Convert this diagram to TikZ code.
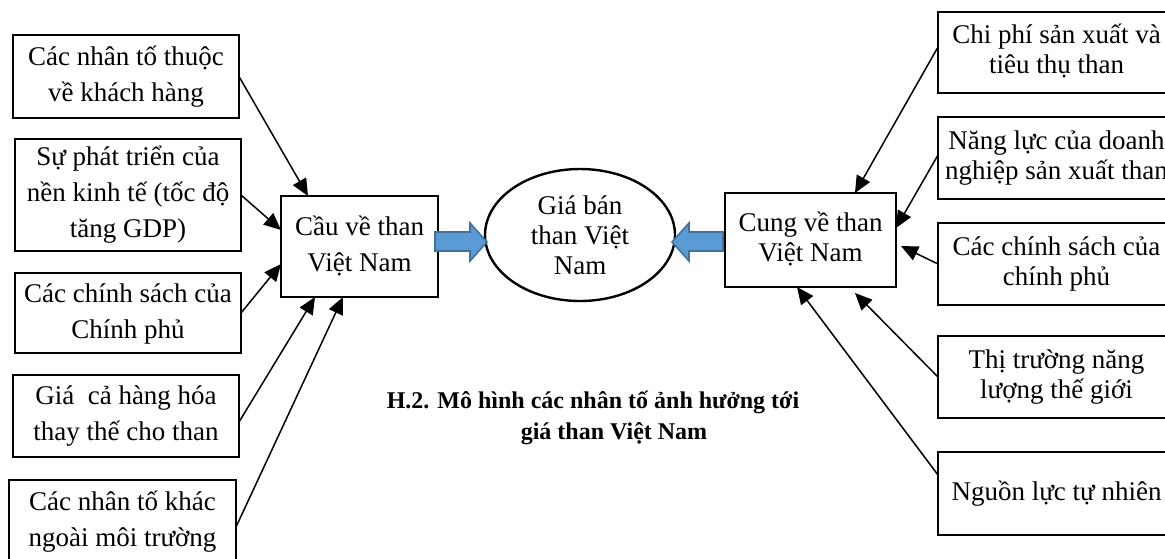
\documentclass[tikz,border=0pt]{standalone}
\usepackage{fontspec}
\setmainfont{Liberation Serif}
\usetikzlibrary{calc,shapes.geometric,arrows.meta}
\definecolor{arrfill}{HTML}{5B9BD5}
\definecolor{arrline}{HTML}{41719C}
\newcommand\lift[2]{\raisebox{#1}{\begin{tabular}{@{}c@{}}#2\end{tabular}}}
\tikzset{
  fbox/.style={draw, line width=1.2pt, inner sep=0pt, outer sep=0pt, align=center,
    font=\fontsize{13.5}{18}\selectfont},
  rbox/.style={fbox, font=\fontsize{13.5}{15}\selectfont},
  conn/.style={line width=0.75pt, -{Triangle[length=8.5pt,width=7.5pt]}},
  barrow/.style={fill=arrfill, draw=arrline, line width=0.8pt, line join=miter}
}
\begin{document}
\begin{tikzpicture}[x=0.5pt,y=-0.5pt]
\useasboundingbox (0,0) rectangle (1165,558);
\clip (0,0) rectangle (1165,558);
% left factor boxes
\node[fbox, minimum width=113pt, minimum height=41.5pt] (L1) at (126,76.5) {\lift{1.5pt}{Các nhân tố thuộc\\về khách hàng}};
\node[fbox, minimum width=113pt, minimum height=56pt] (L2) at (128,195) {Sự phát triển của\\nền kinh tế (tốc độ\\tăng GDP)};
\node[fbox, minimum width=113pt, minimum height=40pt] (L3) at (128,313) {\lift{1.5pt}{Các chính sách của\\Chính phủ}};
\node[fbox, minimum width=113pt, minimum height=41pt] (L4) at (126,416) {Giá\ \ cả hàng hóa\\thay thế cho than};
\node[fbox, minimum width=113.5pt, minimum height=41pt] (L5) at (122.5,521) {\lift{1pt}{Các nhân tố khác\\ngoài môi trường}};
% centre
\node[fbox, minimum width=78.5pt, minimum height=50.5pt] (cau) at (359.5,246.5) {\lift{3pt}{Cầu về than\\Việt Nam}};
\node[draw, ellipse, line width=1.2pt, inner sep=0pt, outer sep=0pt, minimum width=95pt, minimum height=66pt, align=center, font=\fontsize{13.5}{15}\selectfont] (gia) at (580,235) {Giá bán\\than Việt\\Nam};
\node[rbox, minimum width=85.5pt, minimum height=47pt] (cung) at (810.5,240) {\lift{3pt}{Cung về than\\Việt Nam}};
% right factor boxes
\node[rbox, minimum width=118.5pt, minimum height=40.5pt] (R1) at (1056.5,52.5) {\lift{2.5pt}{Chi phí sản xuất và\\tiêu thụ than}};
\node[rbox, minimum width=118.5pt, minimum height=41pt] (R2) at (1056.5,158) {\lift{3pt}{Năng lực của doanh\\nghiệp sản xuất than}};
\node[rbox, minimum width=118.5pt, minimum height=41pt] (R3) at (1056.5,264) {\lift{3pt}{Các chính sách của\\chính phủ}};
\node[rbox, minimum width=118.5pt, minimum height=41pt] (R4) at (1056.5,377) {\lift{3pt}{Thị trường năng\\lượng thế giới}};
\node[rbox, minimum width=118.5pt, minimum height=41.5pt] (R5) at (1056.5,493.5) {\raisebox{3pt}{Nguồn lực tự nhiên}};
% caption
\node[align=center, inner sep=0pt, font=\bfseries\fontsize{12}{15.5}\selectfont] (cap) at (593,417.5) {H.2. Mô hình các nhân tố ảnh hưởng tới\\\hspace*{21pt}giá than Việt Nam};
% block arrows
\filldraw[barrow] (cau.east) ++(-3,-14.5) -- ++(35,0) -- ++(0,-9) -- ++(17,19) -- ++(-17,19) -- ++(0,-10) -- ++(-35,0) -- cycle;
\filldraw[barrow] (cung.west) ++(-2,-8) -- ++(-34,0) -- ++(0,-9) -- ++(-17,19) -- ++(17,19) -- ++(0,-10) -- ++(34,0) -- cycle;
% left connectors
\draw[conn] (L1.east) -- ($(cau.north west)+(27,0)$);
\draw[conn] (L2.east) -- ($(cau.north west)+(0,34)$);
\draw[conn] (L3.east) -- ($(cau.north west)+(0,68)$);
\draw[conn] ($(L4.east)+(0,6)$) -- ($(cau.south west)+(34,0)$);
\draw[conn] ($(L5.east)+(0,6)$) -- ($(cau.south west)+(62,0)$);
% right connectors
\draw[conn] ($(R1.west)+(0,-5.5)$) -- ($(cung.north west)+(130,0)$);
\draw[conn] ($(R2.west)+(0,-3)$) -- ($(cung.north east)+(0,35)$);
\draw[conn] (R3.west) -- ($(cung.north east)+(5,53)$);
\draw[conn] (R4.west) -- ($(cung.south west)+(130,6)$);
\draw[conn] ($(R5.west)+(0,-18.5)$) -- ($(cung.south west)+(72,0)$);
\end{tikzpicture}
\end{document}
